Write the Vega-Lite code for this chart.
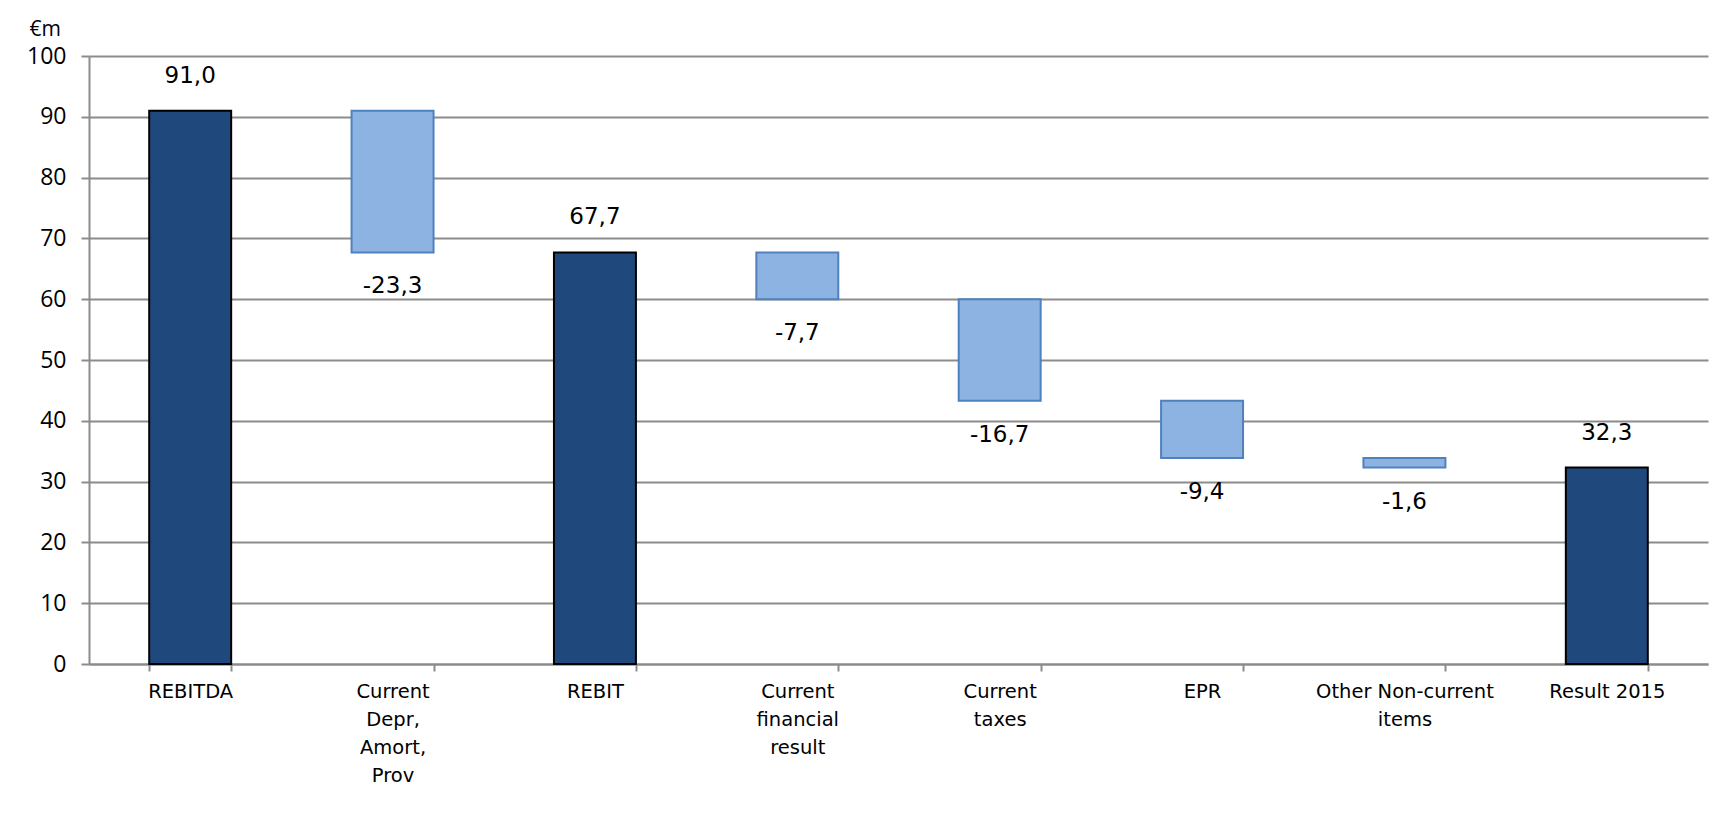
{
  "$schema": "https://vega.github.io/schema/vega-lite/v6.json",
  "width": 1619,
  "height": 608,
  "autosize": {"type": "none"},
  "padding": {"left": 89, "top": 56, "right": 18, "bottom": 163},
  "background": "white",
  "config": {
    "view": {"stroke": null},
    "locale": {"number": {"decimal": ",", "thousands": ".", "grouping": [3], "currency": ["", " €"], "minus": "-"}},
    "font": "DejaVu Sans"
  },
  "data": {
    "values": [
      {"cat": "REBITDA", "start": 0, "end": 91.0, "value": 91.0, "kind": "total"},
      {"cat": "Current Depr, Amort, Prov", "start": 91.0, "end": 67.7, "value": -23.3, "kind": "delta"},
      {"cat": "REBIT", "start": 0, "end": 67.7, "value": 67.7, "kind": "total"},
      {"cat": "Current financial result", "start": 67.7, "end": 60.0, "value": -7.7, "kind": "delta"},
      {"cat": "Current taxes", "start": 60.0, "end": 43.3, "value": -16.7, "kind": "delta"},
      {"cat": "EPR", "start": 43.3, "end": 33.9, "value": -9.4, "kind": "delta"},
      {"cat": "Other Non-current items", "start": 33.9, "end": 32.3, "value": -1.6, "kind": "delta"},
      {"cat": "Result 2015", "start": 0, "end": 32.3, "value": 32.3, "kind": "total"}
    ]
  },
  "encoding": {
    "x": {
      "field": "cat",
      "type": "nominal",
      "sort": null,
      "scale": {"paddingInner": 0.595, "paddingOuter": 0.2975},
      "axis": {
        "title": null,
        "labelAngle": 0,
        "labelFont": "DejaVu Sans",
        "labelFontSize": 19.5,
        "labelColor": "#000000",
        "labelLineHeight": 28,
        "labelPadding": 11,
        "labelBaseline": "top",
        "tickBand": "extent",
        "tickSize": 7,
        "tickWidth": 2,
        "tickColor": "#8c8c8c",
        "domainColor": "#8c8c8c",
        "domainWidth": 2,
        "grid": false,
        "labelExpr": "datum.value == 'Current Depr, Amort, Prov' ? ['Current', 'Depr,', 'Amort,', 'Prov'] : datum.value == 'Current financial result' ? ['Current', 'financial', 'result'] : datum.value == 'Current taxes' ? ['Current', 'taxes'] : datum.value == 'Other Non-current items' ? ['Other Non-current', 'items'] : datum.value"
      }
    }
  },
  "layer": [
    {
      "mark": {"type": "bar", "strokeWidth": 2},
      "encoding": {
        "y": {
          "field": "start",
          "type": "quantitative",
          "scale": {"domain": [0, 100], "nice": false},
          "axis": {
            "title": "€m",
            "titleAngle": 0,
            "titleAlign": "left",
            "titleBaseline": "middle",
            "titleX": -60,
            "titleY": -27,
            "titleFont": "Open Sans",
            "titleFontSize": 21,
            "titleFontWeight": "normal",
            "titleColor": "#000000",
            "values": [0, 10, 20, 30, 40, 50, 60, 70, 80, 90, 100],
            "labelFont": "Open Sans",
            "labelFontSize": 23,
            "labelColor": "#000000",
            "labelPadding": 15,
            "tickSize": 8,
            "tickWidth": 2,
            "tickColor": "#8c8c8c",
            "domainColor": "#8c8c8c",
            "domainWidth": 2,
            "grid": true,
            "gridColor": "#8c8c8c",
            "gridWidth": 2
          }
        },
        "y2": {"field": "end"},
        "fill": {
          "field": "kind",
          "type": "nominal",
          "scale": {"domain": ["total", "delta"], "range": ["#1f497d", "#8db3e2"]},
          "legend": null
        },
        "stroke": {
          "field": "kind",
          "type": "nominal",
          "scale": {"domain": ["total", "delta"], "range": ["#000000", "#4f81bd"]},
          "legend": null
        }
      }
    },
    {
      "transform": [{"filter": "datum.kind == 'total'"}],
      "mark": {"type": "text", "fontSize": 23, "font": "DejaVu Sans", "color": "#000000", "baseline": "middle", "dy": -35},
      "encoding": {
        "y": {"field": "end", "type": "quantitative"},
        "text": {"field": "value", "type": "quantitative", "format": ".1f"}
      }
    },
    {
      "transform": [{"filter": "datum.kind == 'delta'"}],
      "mark": {"type": "text", "fontSize": 23, "font": "DejaVu Sans", "color": "#000000", "baseline": "middle", "dy": 34},
      "encoding": {
        "y": {"field": "end", "type": "quantitative"},
        "text": {"field": "value", "type": "quantitative", "format": ".1f"}
      }
    }
  ]
}
